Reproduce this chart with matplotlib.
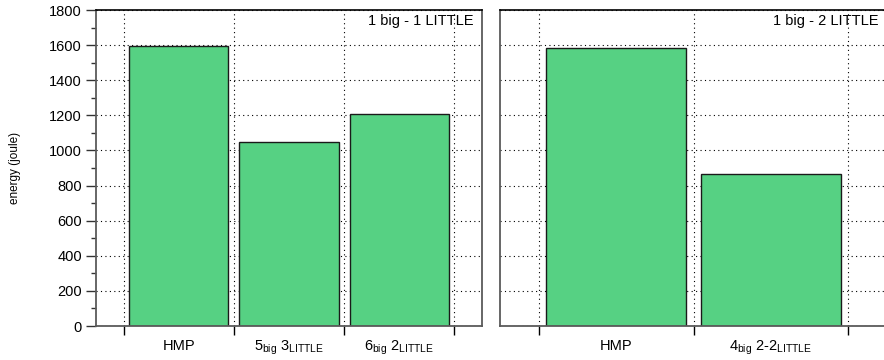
import matplotlib.pyplot as plt
import numpy as np
from matplotlib.ticker import MultipleLocator, FixedLocator

plt.rcParams['font.family'] = ['Liberation Sans', 'DejaVu Sans']
plt.rcParams['mathtext.fontset'] = 'custom'
plt.rcParams['mathtext.rm'] = 'Liberation Sans'
plt.rcParams['mathtext.it'] = 'Liberation Sans:italic'
plt.rcParams['mathtext.bf'] = 'Liberation Sans:bold'

# energy per configuration (joule)
labels_a = ['HMP', r'$\mathrm{5_{big}\ 3_{LITTLE}}$', r'$\mathrm{6_{big}\ 2_{LITTLE}}$']
energy_a = [1595, 1050, 1210]
title_a = '1 big - 1 LITTLE'

labels_b = ['HMP', r'$\mathrm{4_{big}\ 2\text{-}2_{LITTLE}}$']
energy_b = [1585, 865]
title_b = '1 big - 2 LITTLE'

bar_color = '#56d183'
spine_gray = '#5a5a5a'
fs = 10.5

fig = plt.figure(figsize=(8.84, 3.6), dpi=100)
ax1 = fig.add_axes([96 / 884, 34 / 360, 386 / 884, 316 / 360])
ax2 = fig.add_axes([500 / 884, 34 / 360, 387 / 884, 316 / 360])


def draw_panel(ax, labels, values, title, show_y):
    n = len(values)
    x = np.arange(n)
    ax.set_axisbelow(True)
    ax.bar(x, values, width=0.9, color=bar_color, edgecolor='#1a1a1a', linewidth=1.0, zorder=2)
    ax.set_xlim(-0.75, n - 0.25)
    ax.set_ylim(0, 1800)

    # category boundaries carry the tick marks, centers carry the labels
    ax.xaxis.set_major_locator(FixedLocator(np.arange(n + 1) - 0.5))
    ax.xaxis.set_minor_locator(FixedLocator(x))
    ax.set_xticklabels([], minor=False)
    ax.set_xticklabels(labels, minor=True, fontsize=fs)
    ax.tick_params(axis='x', which='major', direction='out', length=6.5, width=1.0, color='black')
    ax.tick_params(axis='x', which='minor', length=0, pad=9)

    ax.yaxis.set_major_locator(MultipleLocator(200))
    ax.yaxis.set_minor_locator(MultipleLocator(100))
    if show_y:
        ax.tick_params(axis='y', which='major', direction='out', length=7.2, width=1.0,
                       color='#333333', labelsize=fs, pad=3)
        ax.tick_params(axis='y', which='minor', direction='out', length=3.6, width=1.0,
                       color='#333333')
    else:
        ax.tick_params(axis='y', which='both', length=0, labelleft=False)

    ax.grid(True, which='major', color='black', linestyle=(0, (1, 3)), linewidth=0.8)

    for side in ['left', 'right', 'bottom']:
        ax.spines[side].set_color(spine_gray)
        ax.spines[side].set_linewidth(1.3)
    ax.spines['top'].set_color('black')
    ax.spines['top'].set_linewidth(1.2)

    ax.text(0.979, 0.988, title, transform=ax.transAxes, ha='right', va='top', fontsize=fs)


draw_panel(ax1, labels_a, energy_a, title_a, True)
draw_panel(ax2, labels_b, energy_b, title_b, False)

ax1.set_ylabel('energy (joule)', fontsize=8.5)
ax1.yaxis.set_label_coords(-0.195, 0.5)

fig.savefig('out.png', dpi=100)
